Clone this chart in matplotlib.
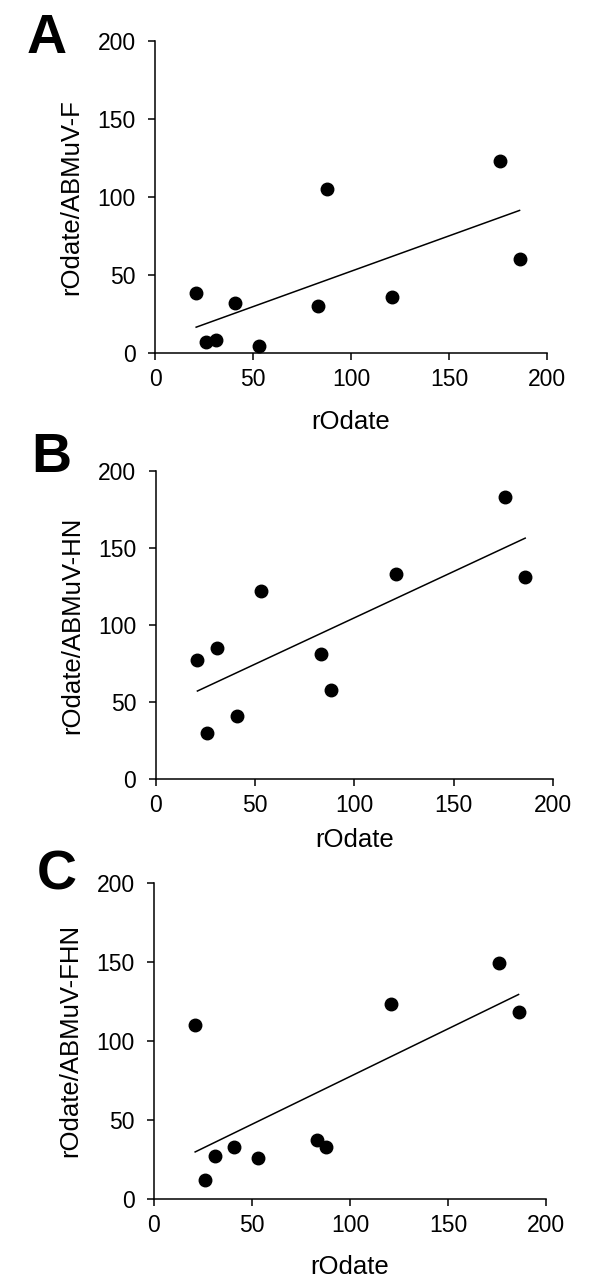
import numpy as np
from matplotlib import pyplot as plt

plt.rcParams['font.family'] = ['Liberation Sans', 'DejaVu Sans']

# rOdate values (shared x for all three panels)
rodate = [21, 26, 31, 41, 53, 83, 88, 121, 176, 186]

# ratios
ratio_F = [38, 7, 8, 32, 4, 30, 105, 36, 123, 60]
ratio_HN = [77, 30, 85, 41, 122, 81, 58, 133, 183, 131]
ratio_FHN = [110, 12, 27, 33, 26, 37, 33, 123, 149, 118]

panels = ["A", "B", "C"]
ylabels = ["rOdate/ABMuV-F", "rOdate/ABMuV-HN", "rOdate/ABMuV-FHN"]
series = [ratio_F, ratio_HN, ratio_FHN]

W, H = 600, 1279
fig = plt.figure(figsize=(W/100, H/100), dpi=100)

# axes boxes in pixels: left, right, top, bottom
boxes = [(155, 547, 40.7, 352.7), (155.7, 553, 470.7, 779), (154, 546, 882.7, 1198.7)]
letter_pos = [(47, 39), (51, 458), (57, 875)]
xlabpad = [14, 8, 13]

for i in range(3):
    l, r, t, b = boxes[i]
    ax = fig.add_axes([l/W, 1 - b/H, (r - l)/W, (b - t)/H])
    x = np.array(rodate)
    y = np.array(series[i])
    ax.plot(x, y, 'o', color='black', markersize=9, zorder=3, clip_on=False)
    # linear trend line
    k, c = np.polyfit(x, y, 1)
    xl = np.array([min(rodate), max(rodate)])
    ax.plot(xl, k*xl + c, color='black', linewidth=1.1)

    ax.set_xlim(0, 200)
    ax.set_ylim(0, 200)
    ax.set_xticks([0, 50, 100, 150, 200])
    ax.set_yticks([0, 50, 100, 150, 200])
    for s in ['top', 'right']:
        ax.spines[s].set_visible(False)
    for s in ['left', 'bottom']:
        ax.spines[s].set_linewidth(1.1)
    ax.tick_params(axis='both', direction='out', length=5, width=1.1, labelsize=16.5)
    ax.tick_params(axis='x', pad=6)
    ax.tick_params(axis='y', pad=9)
    ax.set_xlabel("rOdate", fontsize=18.5, labelpad=xlabpad[i])
    ax.set_ylabel(ylabels[i], fontsize=18.5, labelpad=10)

    fig.text(letter_pos[i][0]/W, 1 - letter_pos[i][1]/H, panels[i],
             fontsize=40, fontweight='bold', ha='center', va='center')

fig.savefig("out.png", dpi=100)
